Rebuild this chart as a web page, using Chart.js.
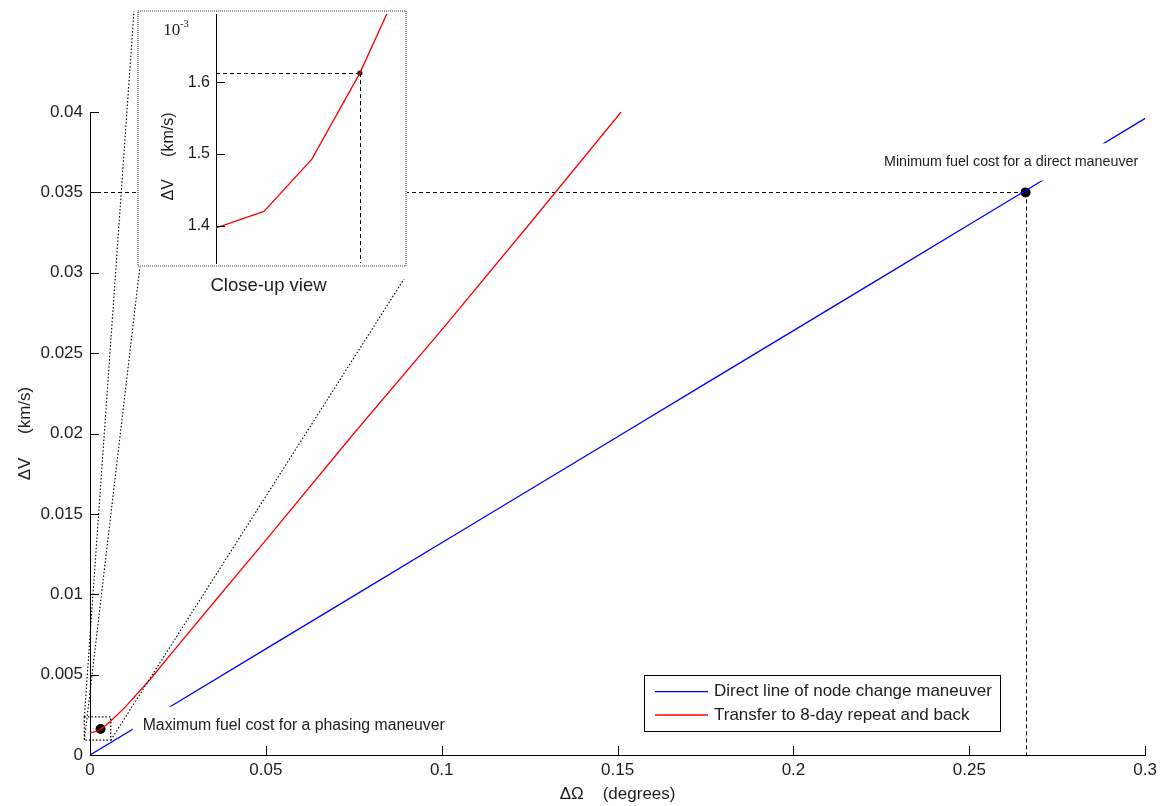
<!DOCTYPE html>
<html>
<head>
<meta charset="utf-8">
<script src="https://cdn.jsdelivr.net/npm/chart.js@4.4.1/dist/chart.umd.min.js"></script>
<style>
  html, body { margin: 0; padding: 0; background: #fff; overflow: hidden; }
  #wrap { position: relative; width: 1162px; height: 806px; }
  #main { position: absolute; left: 0; top: 0; }
  #inset { position: absolute; left: 137px; top: 10px; background: #fff; }
</style>
</head>
<body>
<div id="wrap">
  <canvas id="main" width="1162" height="806"></canvas>
  <canvas id="inset" width="270" height="257"></canvas>
</div>
<script>
// Node change cost: ΔV (km/s) against ΔΩ (degrees)
const seriesNames = ['Direct line of node change maneuver', 'Transfer to 8-day repeat and back'];

const directDOmega = [0, 0.025, 0.05, 0.075, 0.1, 0.125, 0.15, 0.175, 0.2, 0.225, 0.25, 0.275, 0.3];
const directDV     = [0, 0.0033, 0.0066, 0.0099, 0.0132, 0.0165, 0.0198, 0.0231, 0.0264, 0.0297, 0.033, 0.0363, 0.0396];

const transferDOmega = [0, 0.001, 0.002, 0.003, 0.004, 0.006, 0.01, 0.017, 0.025, 0.035, 0.05, 0.075, 0.1, 0.125, 0.151];
const transferDV     = [0.001397, 0.00142, 0.001493, 0.001613, 0.00176, 0.00213, 0.00298, 0.00468, 0.0068, 0.00944, 0.01337, 0.0200, 0.02645, 0.03305, 0.0400];

// highlighted costs: max for phasing, min for a direct maneuver
const markerDOmega = [0.003, 0.266];
const markerDV     = [0.001613, 0.035];

const xTickValues = [0, 0.05, 0.1, 0.15, 0.2, 0.25, 0.3];
const xTickLabels = ['0', '0.05', '0.1', '0.15', '0.2', '0.25', '0.3'];
const yTickValues = [0, 0.005, 0.01, 0.015, 0.02, 0.025, 0.03, 0.035, 0.04];
const yTickLabels = ['0', '0.005', '0.01', '0.015', '0.02', '0.025', '0.03', '0.035', '0.04'];
const insetTickValues = [0.0014, 0.0015, 0.0016];
const insetTickLabels = ['1.4', '1.5', '1.6'];

const SANS = '"Liberation Sans", Arial, Helvetica, sans-serif';
const SERIF = '"Liberation Serif", "Times New Roman", serif';
const TEXT = '#1e1e1e';
const BLUE = '#0000ff';
const RED = '#ff0000';

// region of the main plot that the close-up magnifies
const zoomBox = { x0: -0.0016, x1: 0.0059, y0: 0.00092, y1: 0.00237 };
// inset placement on the page
const INSET = { left: 137, top: 10, width: 270, height: 257 };

const pts = (xs, ys) => xs.map((v, i) => ({ x: v, y: ys[i] }));

function seg(ctx, x1, y1, x2, y2) {
  ctx.beginPath(); ctx.moveTo(x1, y1); ctx.lineTo(x2, y2); ctx.stroke();
}

function boxedLabel(ctx, text, size, tx, ty, box) {
  ctx.fillStyle = '#fff';
  ctx.fillRect(box[0], box[1], box[2] - box[0], box[3] - box[1]);
  ctx.font = size + 'px ' + SANS;
  ctx.fillStyle = TEXT;
  ctx.textAlign = 'left';
  ctx.textBaseline = 'middle';
  ctx.fillText(text, tx, ty);
}

const mainDecor = {
  id: 'mainDecor',
  beforeDatasetsDraw(chart) {
    const { ctx, scales: { x, y }, chartArea: ca } = chart;
    ctx.save();
    // dashed guides to the direct-maneuver minimum
    const mx = x.getPixelForValue(markerDOmega[1]);
    const my = y.getPixelForValue(markerDV[1]);
    ctx.strokeStyle = '#000';
    ctx.lineWidth = 1;
    ctx.setLineDash([4, 3]);
    seg(ctx, ca.left, Math.round(my) + 0.5, mx, Math.round(my) + 0.5);
    seg(ctx, Math.round(mx) + 0.5, my, Math.round(mx) + 0.5, ca.bottom);
    ctx.restore();
  },
  afterDatasetsDraw(chart) {
    const { ctx, scales: { x, y }, chartArea: ca } = chart;
    ctx.save();
    ctx.strokeStyle = '#000';
    ctx.lineWidth = 1;
    // inward tick marks
    xTickValues.forEach(v => {
      const px = Math.round(x.getPixelForValue(v)) + 0.5;
      seg(ctx, px, ca.bottom, px, ca.bottom - 9);
    });
    yTickValues.forEach(v => {
      const py = Math.round(y.getPixelForValue(v)) + 0.5;
      seg(ctx, ca.left, py, ca.left + 9, py);
    });

    // dotted box around the magnified region and its connectors
    const bx0 = x.getPixelForValue(zoomBox.x0), bx1 = x.getPixelForValue(zoomBox.x1);
    const by0 = y.getPixelForValue(zoomBox.y1), by1 = y.getPixelForValue(zoomBox.y0);
    ctx.setLineDash([1.5, 2]);
    ctx.lineWidth = 1.3;
    ctx.strokeRect(bx0, by0, bx1 - bx0, by1 - by0);
    ctx.lineWidth = 1.1;
    seg(ctx, bx0, by0, INSET.left - 3, INSET.top + 1);
    seg(ctx, bx0, by1, INSET.left + 3, INSET.top + INSET.height - 1);
    seg(ctx, bx1, by1, INSET.left + INSET.width - 3, INSET.top + INSET.height + 12);
    ctx.setLineDash([]);

    // annotation labels on white backgrounds
    boxedLabel(ctx, 'Maximum fuel cost for a phasing maneuver', 15.8, 142.7, 726, [132.7, 706.7, 456, 745.3]);
    boxedLabel(ctx, 'Minimum fuel cost for a direct maneuver', 14.3, 884, 162, [874, 143.3, 1149, 180.6]);

    // caption under the inset
    ctx.font = '18.5px ' + SANS;
    ctx.fillStyle = TEXT;
    ctx.textAlign = 'center';
    ctx.textBaseline = 'middle';
    ctx.fillText('Close-up view', 268.5, 286);

    // legend
    const lg = { l: 644.5, t: 675.5, r: 1000.5, b: 731.5 };
    ctx.fillStyle = '#fff';
    ctx.fillRect(lg.l, lg.t, lg.r - lg.l, lg.b - lg.t);
    ctx.strokeStyle = '#000';
    ctx.lineWidth = 1;
    ctx.strokeRect(lg.l, lg.t, lg.r - lg.l, lg.b - lg.t);
    const rows = [691.7, 715];
    chart.data.datasets.slice(0, 2).forEach((ds, i) => {
      ctx.strokeStyle = ds.borderColor;
      ctx.lineWidth = 1.3;
      seg(ctx, 655, rows[i], 708, rows[i]);
      ctx.font = '17px ' + SANS;
      ctx.fillStyle = TEXT;
      ctx.textAlign = 'left';
      ctx.textBaseline = 'middle';
      ctx.fillText(ds.label, 714, rows[i]);
    });
    ctx.restore();
  }
};

new Chart(document.getElementById('main'), {
  type: 'scatter',
  data: {
    datasets: [
      { label: seriesNames[0], data: pts(directDOmega, directDV), showLine: true,
        borderColor: BLUE, borderWidth: 1.3, pointRadius: 0, tension: 0 },
      { label: seriesNames[1], data: pts(transferDOmega, transferDV), showLine: true,
        borderColor: RED, borderWidth: 1.3, pointRadius: 0, tension: 0 },
      { label: 'markers', data: pts(markerDOmega, markerDV), showLine: false,
        pointRadius: 5, pointBackgroundColor: '#000', pointBorderColor: '#000', borderWidth: 0 }
    ]
  },
  options: {
    responsive: false,
    animation: false,
    devicePixelRatio: 1,
    layout: { padding: { left: 0, top: 112, right: 16, bottom: 0 } },
    plugins: { legend: { display: false }, tooltip: { enabled: false } },
    scales: {
      x: {
        type: 'linear', min: 0, max: 0.3,
        afterBuildTicks: s => { s.ticks = xTickValues.map(v => ({ value: v })); },
        afterFit: s => { s.height = 51; },
        grid: { display: false, drawTicks: false },
        border: { display: true, color: '#000', width: 1 },
        ticks: { padding: 5, color: TEXT, font: { family: SANS, size: 17 },
                 maxRotation: 0, autoSkip: false, callback: (v, i) => xTickLabels[i] },
        title: { display: true, text: 'ΔΩ    (degrees)', color: TEXT,
                 font: { family: SANS, size: 17 }, padding: { top: 0, bottom: 1 } }
      },
      y: {
        type: 'linear', min: 0, max: 0.04,
        afterBuildTicks: s => { s.ticks = yTickValues.map(v => ({ value: v })); },
        afterFit: s => { s.width = 90; },
        grid: { display: false, drawTicks: false },
        border: { display: true, color: '#000', width: 1 },
        ticks: { padding: 7, color: TEXT, font: { family: SANS, size: 17 },
                 autoSkip: false, callback: (v, i) => yTickLabels[i] },
        title: { display: true, text: 'ΔV     (km/s)', color: TEXT,
                 font: { family: SANS, size: 17 }, padding: { top: 15, bottom: 0 } }
      }
    }
  },
  plugins: [mainDecor]
});

const insetDecor = {
  id: 'insetDecor',
  beforeDatasetsDraw(chart) {
    const { ctx, scales: { x, y }, chartArea: ca } = chart;
    ctx.save();
    const px = x.getPixelForValue(markerDOmega[0]);
    const py = y.getPixelForValue(markerDV[0]);
    ctx.strokeStyle = '#000';
    ctx.lineWidth = 1;
    ctx.setLineDash([4, 3]);
    seg(ctx, ca.left, Math.round(py) + 0.5, px, Math.round(py) + 0.5);
    seg(ctx, Math.round(px) + 0.5, py, Math.round(px) + 0.5, ca.bottom);
    ctx.restore();
  },
  afterDatasetsDraw(chart) {
    const { ctx, scales: { y }, chartArea: ca } = chart;
    ctx.save();
    ctx.strokeStyle = '#000';
    ctx.lineWidth = 1;
    insetTickValues.forEach(v => {
      const py = Math.round(y.getPixelForValue(v)) + 0.5;
      seg(ctx, ca.left, py, ca.left + 9, py);
    });
    // exponent of the ΔV axis
    ctx.fillStyle = TEXT;
    ctx.textAlign = 'left';
    ctx.textBaseline = 'alphabetic';
    ctx.font = '17px ' + SERIF;
    ctx.fillText('10', 26.3, 25);
    ctx.font = '10.5px ' + SERIF;
    ctx.fillText('-3', 43, 17);
    // axis title
    ctx.save();
    ctx.translate(31.5, 146.5);
    ctx.rotate(-Math.PI / 2);
    ctx.font = '16px ' + SANS;
    ctx.textAlign = 'center';
    ctx.textBaseline = 'middle';
    ctx.fillText('ΔV     (km/s)', 0, 0);
    ctx.restore();
    // frame
    ctx.strokeStyle = '#9a9a9a';
    ctx.lineWidth = 2;
    ctx.setLineDash([1, 1]);
    ctx.strokeRect(1, 1, INSET.width - 2, INSET.height - 2);
    ctx.restore();
  }
};

new Chart(document.getElementById('inset'), {
  type: 'scatter',
  data: {
    datasets: [
      { label: seriesNames[1], data: pts(transferDOmega, transferDV), showLine: true,
        borderColor: RED, borderWidth: 1.3, pointRadius: 0, tension: 0 },
      { label: 'marker', data: [{ x: markerDOmega[0], y: markerDV[0] }], showLine: false,
        pointRadius: 2.6, pointBackgroundColor: '#000', pointBorderColor: '#000', borderWidth: 0 }
    ]
  },
  options: {
    responsive: false,
    animation: false,
    devicePixelRatio: 1,
    layout: { padding: { left: 0, top: 1, right: 1, bottom: 1 } },
    plugins: { legend: { display: false }, tooltip: { enabled: false } },
    scales: {
      x: { type: 'linear', min: 0, max: 0.0039, display: false },
      y: {
        type: 'linear', min: 0.001348, max: 0.0016955,
        afterBuildTicks: s => { s.ticks = insetTickValues.map(v => ({ value: v })); },
        // fixed axis width; tick labels may sit near the frame edges
        afterFit: s => { s.width = 79; s.paddingTop = 0; s.paddingBottom = 0; },
        grid: { display: false, drawTicks: false },
        border: { display: true, color: '#000', width: 1 },
        ticks: { padding: 6, color: TEXT, font: { family: SANS, size: 16 },
                 autoSkip: false, callback: (v, i) => insetTickLabels[i] }
      }
    }
  },
  plugins: [insetDecor]
});
</script>
</body>
</html>
